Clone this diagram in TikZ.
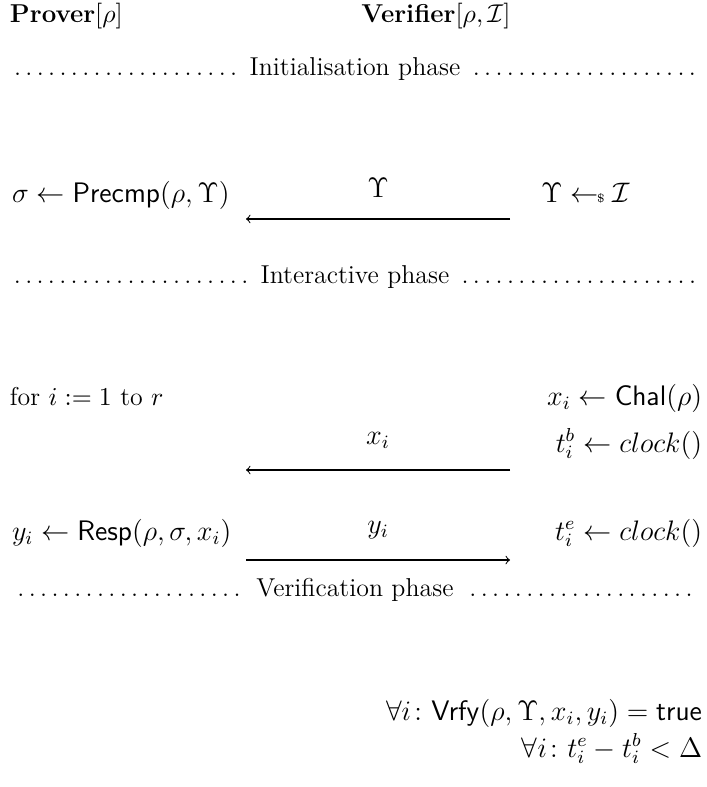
\documentclass[tikz,border=0pt]{standalone}
\usepackage{amsmath,amssymb}
\newcommand{\smp}{\mathrel{\gets\!\!\mbox{\tiny$\$$}}}
\newcommand{\phaseline}[1]{\makebox[293.6pt]{\dotfill\ #1\ \dotfill}}
\begin{document}
\begin{tikzpicture}[x=0.4255pt,y=-0.4255pt,
  txt/.style={inner sep=0pt,outer sep=0pt,font=\fontsize{11}{13}\selectfont},
  mth/.style={inner sep=0pt,outer sep=0pt,font=\fontsize{11.6}{14}\selectfont},
  msg/.style={line width=0.45pt}]
\useasboundingbox (0,0) rectangle (706,787);
% headers
\node[txt,anchor=base west] (prover) at (10,23) {\textbf{Prover}$[\rho]$};
\node[txt,anchor=base] (verifier) at (436,23) {\textbf{Verifier}$[\rho,\mathcal{I}]$};
% initialisation
\node[txt,anchor=base west] (ph1) at (10,76) {\phaseline{Initialisation phase}};
\node[mth,anchor=base west] (pre) at (12,203) {$\sigma \gets \mathsf{Precmp}(\rho,\Upsilon)$};
\node[mth,anchor=base west] (samp) at (541,203) {$\Upsilon \smp \mathcal{I}$};
\coordinate (a1r) at (510,219);
\coordinate (a1l) at (246,219);
\draw[msg,->] (a1r) -- node[mth,above=9pt] (l1) {$\Upsilon$} (a1l);
% interactive
\node[txt,anchor=base west] (ph2) at (10,284) {\phaseline{Interactive phase}};
\node[txt,anchor=base west] (for) at (10,405) {for $i := 1$ to $r$};
\node[mth,anchor=base east] (chal) at (702,405) {$x_i \gets \mathsf{Chal}(\rho)$};
\node[mth,anchor=base east] (tb) at (702,452) {$t_i^b \gets clock()$};
\coordinate (a2r) at (510,470);
\coordinate (a2l) at (246,470);
\draw[msg,->] (a2r) -- node[mth,above=9pt] (l2) {$x_i$} (a2l);
\node[mth,anchor=base west] (resp) at (12,540) {$y_i \gets \mathsf{Resp}(\rho,\sigma,x_i)$};
\node[mth,anchor=base east] (te) at (702,540) {$t_i^e \gets clock()$};
\coordinate (a3l) at (246,560);
\coordinate (a3r) at (510,560);
\draw[msg,->] (a3l) -- node[mth,above=9pt] (l3) {$y_i$} (a3r);
% verification
\node[txt,anchor=base west] (ph3) at (10,596) {\phaseline{Verification phase}};
\node[mth,anchor=base east] (v1) at (702,720) {$\forall i\colon \mathsf{Vrfy}(\rho,\Upsilon,x_i,y_i) = \mathsf{true}$};
\node[mth,anchor=base east] (v2) at (702,757) {$\forall i\colon t_i^e - t_i^b < \Delta$};
\end{tikzpicture}
\end{document}
